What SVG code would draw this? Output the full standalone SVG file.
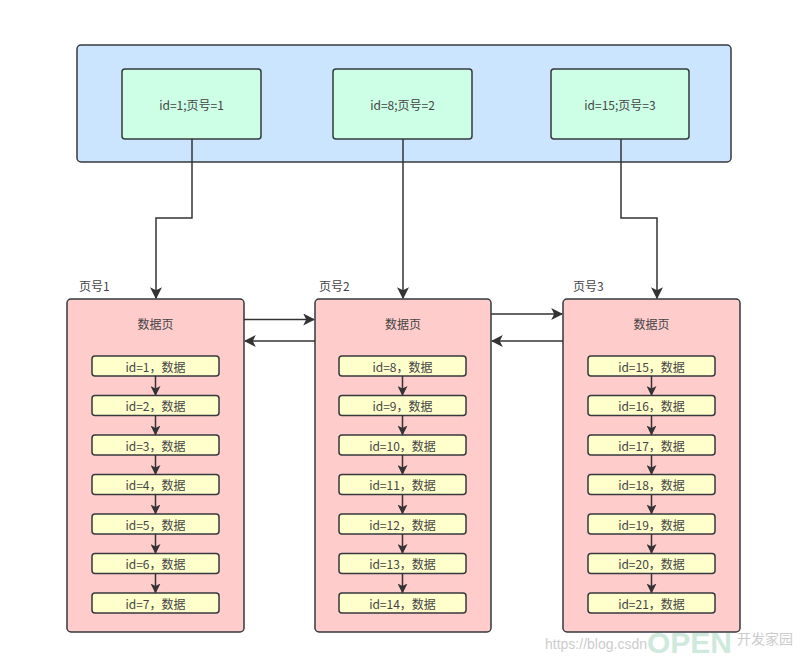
<svg xmlns="http://www.w3.org/2000/svg" width="800" height="662" viewBox="0 0 800 662">
<style>
text{font-family:"Noto Sans CJK SC","Liberation Sans",sans-serif;font-size:12px;fill:#444;text-anchor:middle;dominant-baseline:central}
.ct{fill:#cce5ff;stroke:#36393d;stroke-width:1.5}
.ix{fill:#ccffe6;stroke:#36393d;stroke-width:1.5}
.pg{fill:#ffcccc;stroke:#36393d;stroke-width:1.5}
.rw{fill:#ffffcc;stroke:#36393d;stroke-width:1.5}
.ln{fill:none;stroke:#333;stroke-width:1.5}
.lab{text-anchor:start}
</style>
<defs>
<marker id="ah" viewBox="0 0 10 10" refX="9" refY="5" markerWidth="10" markerHeight="10" markerUnits="userSpaceOnUse" orient="auto"><path d="M0,0 L10,5 L0,10 L2.5,5 Z" fill="#333"/></marker>
<marker id="ahL" viewBox="0 0 10 10" refX="9" refY="5" markerWidth="12" markerHeight="12" markerUnits="userSpaceOnUse" orient="auto"><path d="M0,0 L10,5 L0,10 L2.5,5 Z" fill="#333"/></marker>
</defs>
<rect width="800" height="662" fill="#fff"/>
<g id="index">
<rect class="ct" x="77" y="45" width="654" height="117" rx="4"/>
</g>
<g id="idx1"><rect class="ix" x="122" y="69" width="139" height="70" rx="3"/><text x="191.5" y="104">id=1;页号=1</text></g>
<g id="idx2"><rect class="ix" x="333" y="69" width="139" height="70" rx="3"/><text x="402.5" y="104">id=8;页号=2</text></g>
<g id="idx3"><rect class="ix" x="551" y="69" width="138" height="70" rx="3"/><text x="620" y="104">id=15;页号=3</text></g>

<g id="page1">
<text class="lab" x="79" y="285">页号1</text>
<rect class="pg" x="67" y="299" width="177" height="333" rx="4"/>
<text x="155.5" y="323">数据页</text>
<rect class="rw" x="92" y="356" width="127" height="20" rx="3"/><text x="155.5" y="366">id=1，数据</text>
<rect class="rw" x="92" y="395.5" width="127" height="20" rx="3"/><text x="155.5" y="405.5">id=2，数据</text>
<rect class="rw" x="92" y="435" width="127" height="20" rx="3"/><text x="155.5" y="445">id=3，数据</text>
<rect class="rw" x="92" y="474.5" width="127" height="20" rx="3"/><text x="155.5" y="484.5">id=4，数据</text>
<rect class="rw" x="92" y="514" width="127" height="20" rx="3"/><text x="155.5" y="524">id=5，数据</text>
<rect class="rw" x="92" y="553.5" width="127" height="20" rx="3"/><text x="155.5" y="563.5">id=6，数据</text>
<rect class="rw" x="92" y="593" width="127" height="20" rx="3"/><text x="155.5" y="603">id=7，数据</text>
</g>
<g id="page2">
<text class="lab" x="319" y="285">页号2</text>
<rect class="pg" x="315" y="299" width="176" height="333" rx="4"/>
<text x="403" y="323">数据页</text>
<rect class="rw" x="339" y="356" width="127" height="20" rx="3"/><text x="402.5" y="366">id=8，数据</text>
<rect class="rw" x="339" y="395.5" width="127" height="20" rx="3"/><text x="402.5" y="405.5">id=9，数据</text>
<rect class="rw" x="339" y="435" width="127" height="20" rx="3"/><text x="402.5" y="445">id=10，数据</text>
<rect class="rw" x="339" y="474.5" width="127" height="20" rx="3"/><text x="402.5" y="484.5">id=11，数据</text>
<rect class="rw" x="339" y="514" width="127" height="20" rx="3"/><text x="402.5" y="524">id=12，数据</text>
<rect class="rw" x="339" y="553.5" width="127" height="20" rx="3"/><text x="402.5" y="563.5">id=13，数据</text>
<rect class="rw" x="339" y="593" width="127" height="20" rx="3"/><text x="402.5" y="603">id=14，数据</text>
</g>
<g id="page3">
<text class="lab" x="573" y="285">页号3</text>
<rect class="pg" x="563" y="299" width="177" height="333" rx="4"/>
<text x="651.5" y="323">数据页</text>
<rect class="rw" x="588" y="356" width="127" height="20" rx="3"/><text x="651.5" y="366">id=15，数据</text>
<rect class="rw" x="588" y="395.5" width="127" height="20" rx="3"/><text x="651.5" y="405.5">id=16，数据</text>
<rect class="rw" x="588" y="435" width="127" height="20" rx="3"/><text x="651.5" y="445">id=17，数据</text>
<rect class="rw" x="588" y="474.5" width="127" height="20" rx="3"/><text x="651.5" y="484.5">id=18，数据</text>
<rect class="rw" x="588" y="514" width="127" height="20" rx="3"/><text x="651.5" y="524">id=19，数据</text>
<rect class="rw" x="588" y="553.5" width="127" height="20" rx="3"/><text x="651.5" y="563.5">id=20，数据</text>
<rect class="rw" x="588" y="593" width="127" height="20" rx="3"/><text x="651.5" y="603">id=21，数据</text>
</g>

<g id="connectors">
<path class="ln" d="M192,139 V218 H156 V298" marker-end="url(#ahL)"/>
<path class="ln" d="M403,139 V298" marker-end="url(#ahL)"/>
<path class="ln" d="M621,139 V218 H657 V298" marker-end="url(#ahL)"/>
<path class="ln" d="M244,319.5 H314" marker-end="url(#ahL)"/>
<path class="ln" d="M315,341 H245" marker-end="url(#ahL)"/>
<path class="ln" d="M491,314 H562" marker-end="url(#ahL)"/>
<path class="ln" d="M563,341 H492" marker-end="url(#ahL)"/>
<path class="ln" d="M155.5,376 V395" marker-end="url(#ah)"/>
<path class="ln" d="M155.5,415.5 V434.5" marker-end="url(#ah)"/>
<path class="ln" d="M155.5,455 V474" marker-end="url(#ah)"/>
<path class="ln" d="M155.5,494.5 V513.5" marker-end="url(#ah)"/>
<path class="ln" d="M155.5,534 V553" marker-end="url(#ah)"/>
<path class="ln" d="M155.5,573.5 V592.5" marker-end="url(#ah)"/>
<path class="ln" d="M402.5,376 V395" marker-end="url(#ah)"/>
<path class="ln" d="M402.5,415.5 V434.5" marker-end="url(#ah)"/>
<path class="ln" d="M402.5,455 V474" marker-end="url(#ah)"/>
<path class="ln" d="M402.5,494.5 V513.5" marker-end="url(#ah)"/>
<path class="ln" d="M402.5,534 V553" marker-end="url(#ah)"/>
<path class="ln" d="M402.5,573.5 V592.5" marker-end="url(#ah)"/>
<path class="ln" d="M651.5,376 V395" marker-end="url(#ah)"/>
<path class="ln" d="M651.5,415.5 V434.5" marker-end="url(#ah)"/>
<path class="ln" d="M651.5,455 V474" marker-end="url(#ah)"/>
<path class="ln" d="M651.5,494.5 V513.5" marker-end="url(#ah)"/>
<path class="ln" d="M651.5,534 V553" marker-end="url(#ah)"/>
<path class="ln" d="M651.5,573.5 V592.5" marker-end="url(#ah)"/>
</g>
<g id="watermark">
<text class="lab" x="545" y="644" style="font-family:'Liberation Sans',sans-serif;font-size:14px;fill:#ccc">https://blog.csdn</text>
<text class="lab" x="647" y="642" style="font-family:'Liberation Sans',sans-serif;font-size:30px;font-weight:bold;fill:#cfe9dc">OPEN</text>
<text class="lab" x="737" y="638" style="font-size:14px;fill:#ccc">开发家园</text>
</g>
</svg>
